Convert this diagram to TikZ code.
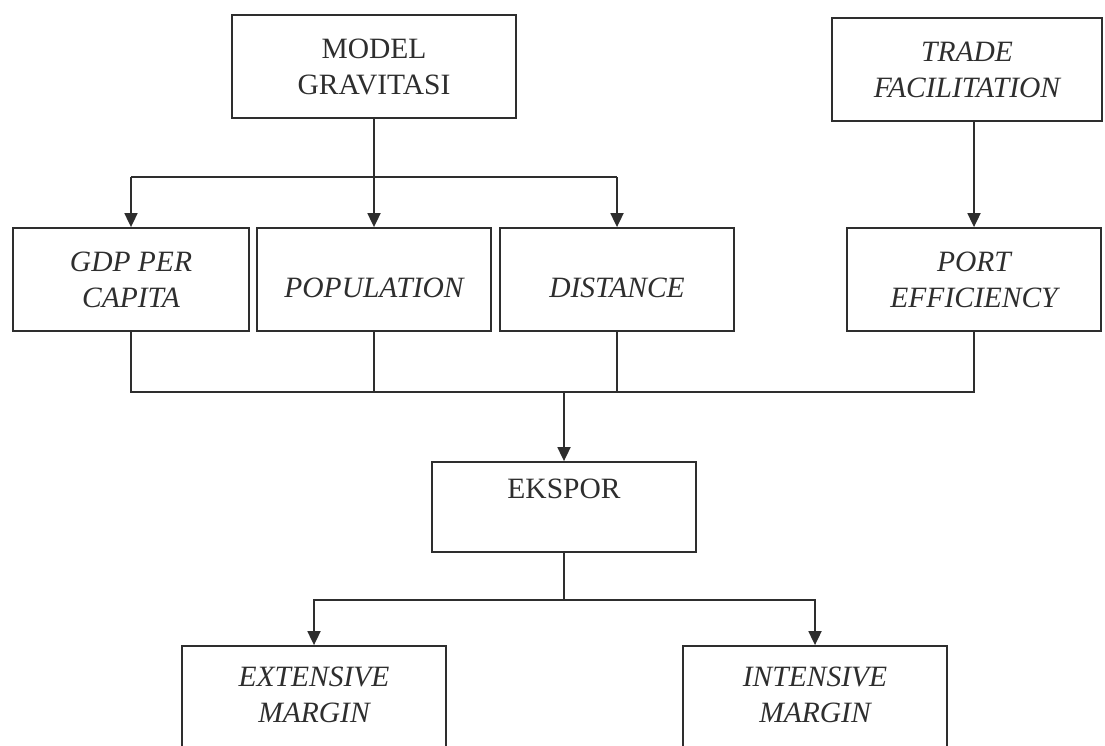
\documentclass[tikz,border=0pt]{standalone}
\usepackage{fontspec}
\setmainfont{Liberation Serif}
\usetikzlibrary{arrows.meta}
\definecolor{ink}{HTML}{2E2E2E}
\begin{document}
\begin{tikzpicture}[x=1pt,y=-1pt,
  box/.style={draw=ink, line width=1.8pt, rectangle, inner sep=0pt, align=center, text=ink, font=\fontsize{29.5}{36}\selectfont},
  ibox/.style={box, font=\fontsize{29.5}{36}\selectfont\itshape},
  conn/.style={draw=ink, line width=1.8pt},
  arr/.style={conn, -{Triangle[length=14pt,width=13pt]}}]
\useasboundingbox[fill=white] (0,0) rectangle (1105,745);
\clip (0,0) rectangle (1105,745);
\node[box, minimum width=284pt, minimum height=103pt] (model) at (374,66.5) {MODEL\\GRAVITASI};
\node[ibox, minimum width=270pt, minimum height=103pt] (trade) at (967,69.5) {TRADE\\FACILITATION};
\node[ibox, minimum width=236pt, minimum height=103pt] (gdp) at (131,279.5) {GDP PER\\CAPITA};
\node[ibox, minimum width=234pt, minimum height=103pt] (pop) at (374,279.5) {\mbox{}\\POPULATION};
\node[ibox, minimum width=234pt, minimum height=103pt] (dist) at (617,279.5) {\mbox{}\\DISTANCE};
\node[ibox, minimum width=254pt, minimum height=103pt] (port) at (974,279.5) {PORT\\EFFICIENCY};
\node[box, minimum width=264pt, minimum height=90pt] (eks) at (564,507) {EKSPOR\\\mbox{}};
\node[ibox, minimum width=264pt, minimum height=134pt] (ext) at (314,713) {EXTENSIVE\\MARGIN\\\mbox{}};
\node[ibox, minimum width=264pt, minimum height=134pt] (int) at (815,713) {INTENSIVE\\MARGIN\\\mbox{}};
\coordinate (top) at (374,177);
\coordinate (mid) at (564,392);
\coordinate (low) at (564,600);
\draw[arr] (model.south) -- (pop.north);
\draw[conn] (gdp.north |- top) -- (dist.north |- top);
\draw[arr] (gdp.north |- top) -- (gdp.north);
\draw[arr] (dist.north |- top) -- (dist.north);
\draw[arr] (port.north |- trade.south) -- (port.north);
\draw[conn] (gdp.south) -- (gdp.south |- mid) -- (port.south |- mid) -- (port.south);
\draw[conn] (pop.south) -- (pop.south |- mid);
\draw[conn] (dist.south) -- (dist.south |- mid);
\draw[arr] (eks.north |- mid) -- (eks.north);
\draw[conn] (eks.south) -- (eks.south |- low);
\draw[arr] (eks.south |- low) -- (ext.north |- low) -- (ext.north);
\draw[arr] (eks.south |- low) -- (int.north |- low) -- (int.north);
\end{tikzpicture}
\end{document}
